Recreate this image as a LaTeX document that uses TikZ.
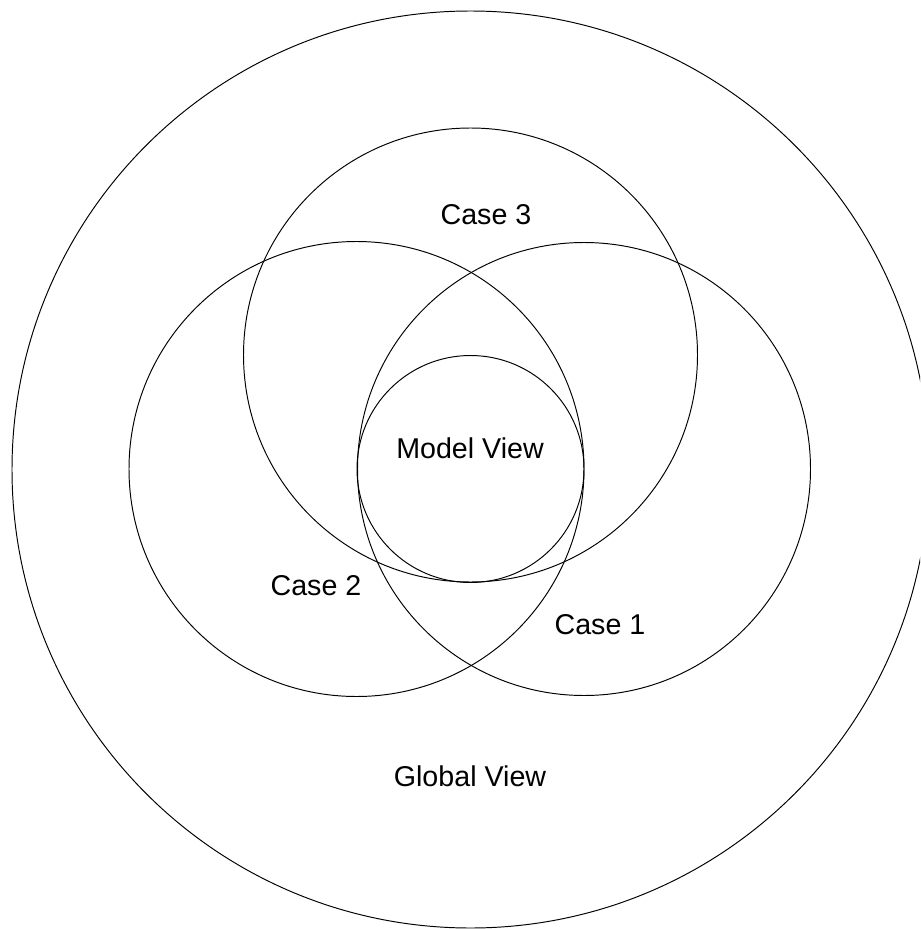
\documentclass[tikz,border=0pt]{standalone}
\usepackage{fontspec}
\setmainfont{Liberation Sans}
\usetikzlibrary{positioning}

\begin{document}
\begin{tikzpicture}[x=0.02cm, y=-0.02cm, ring/.style={draw, line width=0.55pt}, lbl/.style={font=\fontsize{16.3}{19}\selectfont, inner sep=0pt}]
\useasboundingbox (0,0) rectangle (920,929);
\clip (0,0) rectangle (920,929);
% centres of the views
\coordinate (gc) at (470.5,469.5);
\coordinate (mc) at (470.5,469);
\coordinate (c1) at (584,469);
\coordinate (c2) at (356.5,469);
\coordinate (c3) at (470.5,355);
\draw[ring] (gc) circle (458.5);
\draw[ring] (c3) circle (227);
\draw[ring] (c2) circle (227.5);
\draw[ring] (c1) circle (226.5);
\draw[ring] (mc) circle (113.5);
% labels
\node[lbl] (mv) at (470,448.5) {Model View};
\node[lbl] (k3) at (486,215) {Case 3};
\node[lbl] (k2) at (316,586) {Case 2};
\node[lbl] (k1) at (600,625) {Case 1};
\node[lbl] (gv) at (470,776) {Global View};
\end{tikzpicture}
\end{document}
